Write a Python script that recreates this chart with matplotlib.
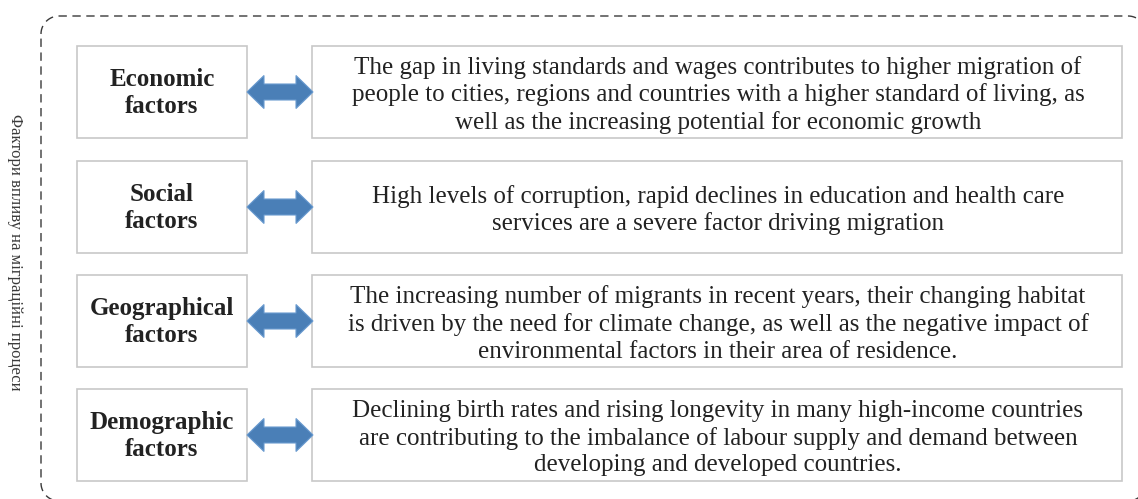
import numpy as np
import matplotlib.pyplot as plt
from matplotlib.patches import Rectangle, Polygon

plt.rcParams['font.family'] = ['Liberation Serif', 'DejaVu Serif']

factors = ["Economic\nfactors", "Social\nfactors", "Geographical\nfactors", "Demographic\nfactors"]
descriptions = [
    "The gap in living standards and wages contributes to higher migration of\n"
    "people to cities, regions and countries with a higher standard of living, as\n"
    "well as the increasing potential for economic growth",
    "High levels of corruption, rapid declines in education and health care\n"
    "services are a severe factor driving migration",
    "The increasing number of migrants in recent years, their changing habitat\n"
    "is driven by the need for climate change, as well as the negative impact of\n"
    "environmental factors in their area of residence.",
    "Declining birth rates and rising longevity in many high-income countries\n"
    "are contributing to the imbalance of labour supply and demand between\n"
    "developing and developed countries.",
]
side_label = "Фактори впливу на міграційні процеси"

W, H = 1138, 499
fig = plt.figure(figsize=(W / 100, H / 100), dpi=100)
ax = fig.add_axes([0, 0, 1, 1])
ax.set_xlim(0, W)
ax.set_ylim(H, 0)
ax.axis("off")

# dashed outer frame with rounded corners (runs off the right/bottom edges)
left, top, right, bottom, r = 41, 16, 1146, 501, 18
xs, ys = [], []
corners = [(left + r, top + r, 180, 270), (right - r, top + r, 270, 360),
           (right - r, bottom - r, 0, 90), (left + r, bottom - r, 90, 180)]
for cx, cy, a0, a1 in corners:
    t = np.radians(np.linspace(a0, a1, 20))
    xs.extend(cx + r * np.cos(t))
    ys.extend(cy + r * np.sin(t))
xs.append(xs[0])
ys.append(ys[0])
ax.plot(xs, ys, color="#3a3a3a", lw=1.0, ls=(0, (6, 4)))

ax.text(15, 252, side_label, rotation=-90, ha="center", va="center",
        fontsize=12, color="#3a3a3a")

tops = [46, 161, 275, 389]
box_h = 92
text_col = "#222222"
edge_col = "#c8c8c8"
arrow_col = "#4a7fb7"

for top_y, name, desc in zip(tops, factors, descriptions):
    ax.add_patch(Rectangle((77, top_y), 170, box_h, fill=False, ec=edge_col, lw=1.2))
    ax.add_patch(Rectangle((312, top_y), 810, box_h, fill=False, ec=edge_col, lw=1.2))
    cy = top_y + box_h / 2
    ax.text(162, cy + 1, name, ha="center", va="center", fontsize=18,
            fontweight="bold", color=text_col, linespacing=1.25)
    ax.text(718, cy + 3, desc, ha="center", va="center", fontsize=18,
            color=text_col, linespacing=1.27)
    # double-headed arrow
    x0, x1 = 247, 313
    hl, hh, sh = 17, 16.5, 8
    pts = [(x0, cy), (x0 + hl, cy - hh), (x0 + hl, cy - sh), (x1 - hl, cy - sh),
           (x1 - hl, cy - hh), (x1, cy), (x1 - hl, cy + hh), (x1 - hl, cy + sh),
           (x0 + hl, cy + sh), (x0 + hl, cy + hh)]
    ax.add_patch(Polygon(pts, closed=True, fc=arrow_col, ec="#6a9bd0", lw=0.8))

fig.savefig("out.png", dpi=100)
